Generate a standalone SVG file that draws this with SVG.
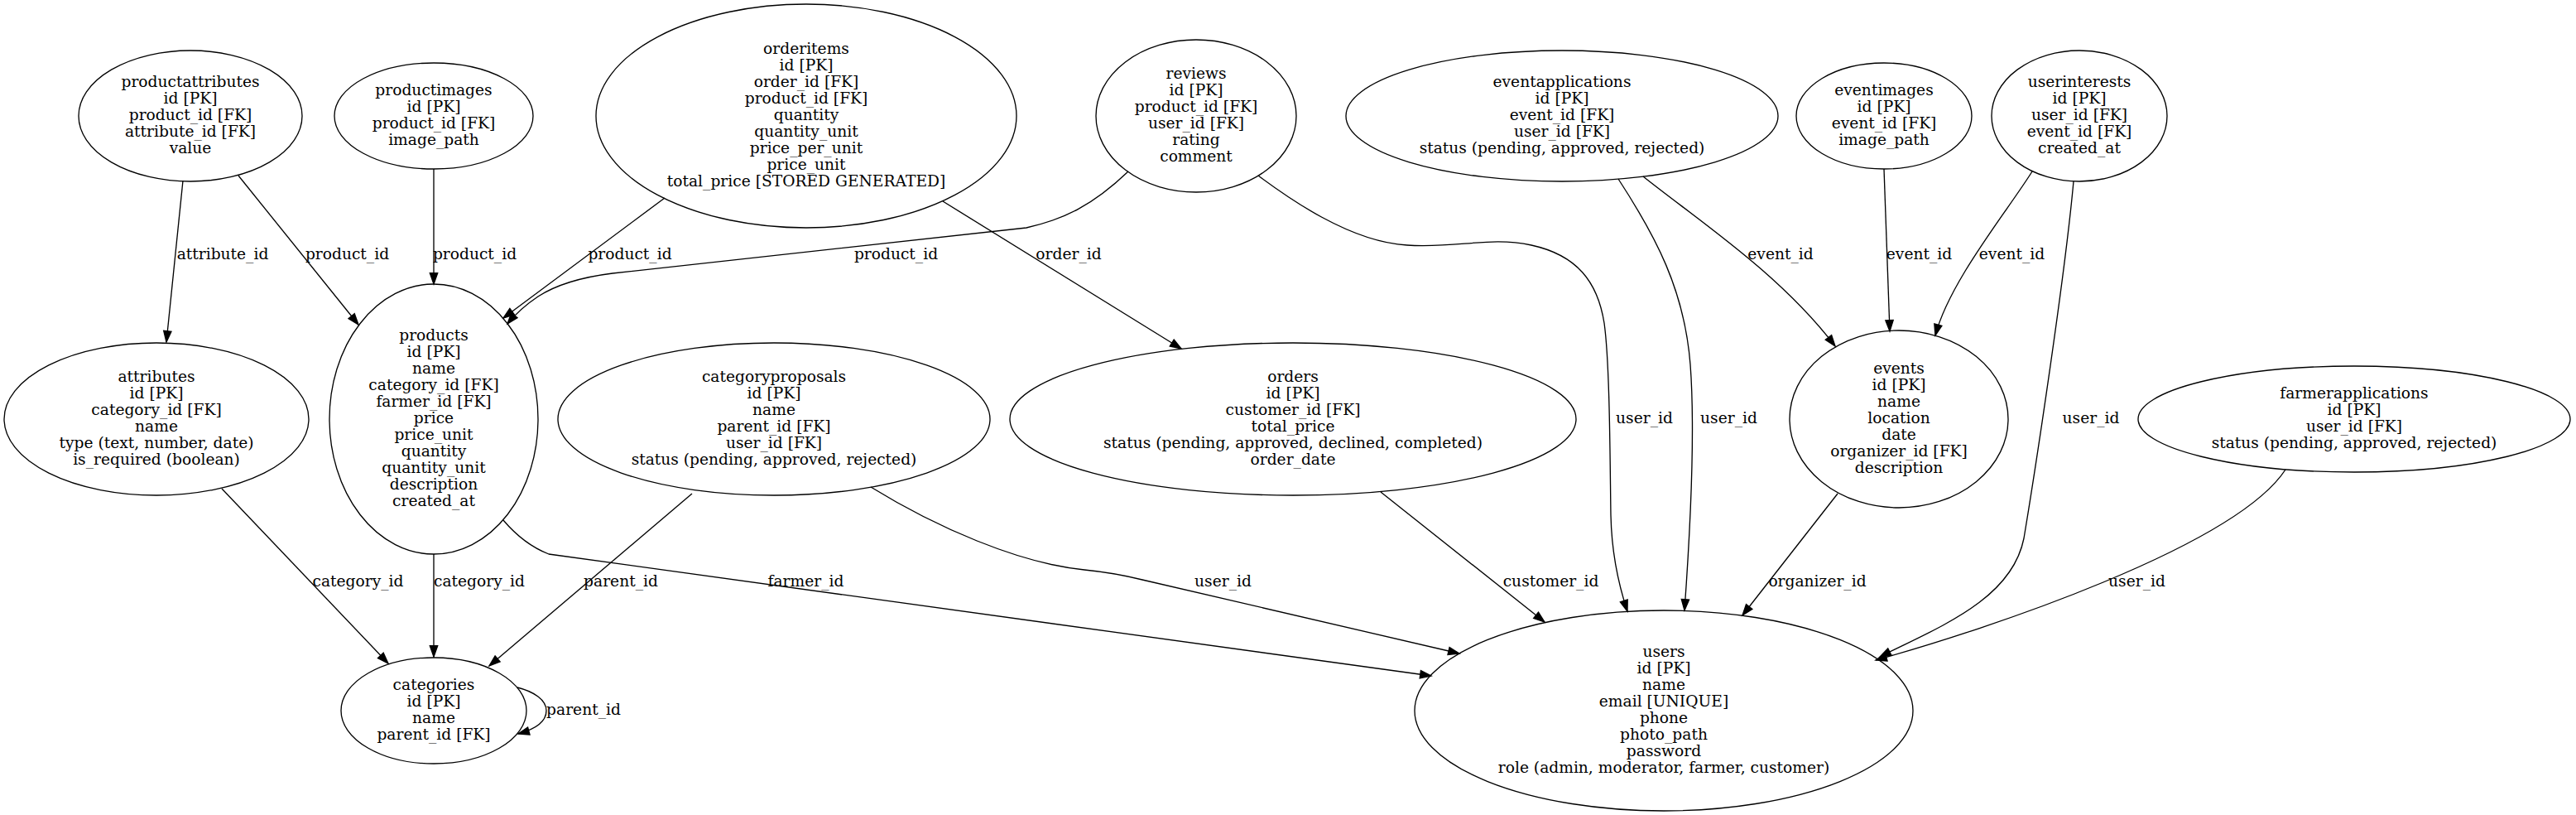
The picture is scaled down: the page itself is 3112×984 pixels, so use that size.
<svg xmlns="http://www.w3.org/2000/svg" width="3112" height="984" viewBox="0 0 3112 984">
<style>
.n ellipse{fill:none;stroke:#000;stroke-width:1.33}
text{font-family:"DejaVu Serif","Liberation Serif",serif;font-size:18.67px;text-anchor:middle;fill:#000}
#edges path{fill:none;stroke:#000;stroke-width:1.33;marker-end:url(#arr)}
</style>
<defs>
<marker id="arr" markerUnits="userSpaceOnUse" markerWidth="18" markerHeight="14" viewBox="-2 -7 18 14" refX="13.3" refY="0" orient="auto">
<path d="M0,-4.67 L13.3,0 L0,4.67 z" fill="#000" stroke="#000" stroke-width="1.33"/>
</marker>
</defs>
<rect width="3112" height="984" fill="#fff"/>

<g id="edges">
<path d="M221,218 L201,413"/>
<path d="M288,212 L433,392"/>
<path d="M524,204 L524,343"/>
<path d="M803,239 L608,384"/>
<path d="M1363,207 C1320,248 1285,265 1240,275 L740,330 C700,335 670,345 650,358 C635,368 622,380 613,391"/>
<path d="M1139,243 L1427,421"/>
<path d="M1520,212 C1555,238 1630,292 1700,296 C1760,300 1800,285 1850,296 C1905,308 1930,340 1938,390 C1945,440 1945,560 1946,622 C1947,670 1955,705 1966,738"/>
<path d="M1955,216 C2000,285 2035,350 2042,440 C2048,520 2042,640 2035,737"/>
<path d="M1985,213 C2050,265 2150,330 2217,418"/>
<path d="M2276,204 L2283,400"/>
<path d="M2455,207 C2425,255 2355,340 2338,405"/>
<path d="M2505,219 C2495,330 2460,560 2445,650 C2430,725 2340,758 2271,793"/>
<path d="M268,590 L469,801"/>
<path d="M524,669 L524,793"/>
<path d="M836,596 L591,804"/>
<path d="M625,830 C645,835 660,845 660,858 C660,870 648,880 626,886"/>
<path d="M608,628 C625,648 645,662 663,669 L1729,816"/>
<path d="M1052,588 C1130,636 1230,680 1310,688 C1340,691 1360,695 1380,700 L1763,789"/>
<path d="M1668,594 L1866,751"/>
<path d="M2220,596 L2105,743"/>
<path d="M2761,567 C2700,660 2400,760 2266,797"/>
</g>

<g id="edge-labels">
<text x="269" y="313">attribute_id</text>
<text x="419.5" y="313">product_id</text>
<text x="573.5" y="313">product_id</text>
<text x="761" y="313">product_id</text>
<text x="1082.5" y="313">product_id</text>
<text x="1291" y="313">order_id</text>
<text x="2151" y="313">event_id</text>
<text x="2318.5" y="313">event_id</text>
<text x="2430.5" y="313">event_id</text>
<text x="1986.5" y="511">user_id</text>
<text x="2088.5" y="511">user_id</text>
<text x="2526" y="511">user_id</text>
<text x="432.5" y="708">category_id</text>
<text x="579" y="708">category_id</text>
<text x="750" y="708">parent_id</text>
<text x="973.5" y="708">farmer_id</text>
<text x="1477.5" y="708">user_id</text>
<text x="1873.5" y="708">customer_id</text>
<text x="2195.5" y="708">organizer_id</text>
<text x="2581.5" y="708">user_id</text>
<text x="705" y="863">parent_id</text>
</g>

<g id="productattributes" class="n">
<ellipse cx="230" cy="140" rx="135" ry="79"/>
<text x="230" y="105">productattributes<tspan x="230" dy="20">id [PK]</tspan><tspan x="230" dy="20">product_id [FK]</tspan><tspan x="230" dy="20">attribute_id [FK]</tspan><tspan x="230" dy="20">value</tspan></text>
</g>
<g id="productimages" class="n">
<ellipse cx="524" cy="140" rx="120" ry="64"/>
<text x="524" y="115">productimages<tspan x="524" dy="20">id [PK]</tspan><tspan x="524" dy="20">product_id [FK]</tspan><tspan x="524" dy="20">image_path</tspan></text>
</g>
<g id="orderitems" class="n">
<ellipse cx="974" cy="140" rx="254" ry="135"/>
<text x="974" y="65">orderitems<tspan x="974" dy="20">id [PK]</tspan><tspan x="974" dy="20">order_id [FK]</tspan><tspan x="974" dy="20">product_id [FK]</tspan><tspan x="974" dy="20">quantity</tspan><tspan x="974" dy="20">quantity_unit</tspan><tspan x="974" dy="20">price_per_unit</tspan><tspan x="974" dy="20">price_unit</tspan><tspan x="974" dy="20">total_price [STORED GENERATED]</tspan></text>
</g>
<g id="reviews" class="n">
<ellipse cx="1445" cy="140" rx="121" ry="92"/>
<text x="1445" y="95">reviews<tspan x="1445" dy="20">id [PK]</tspan><tspan x="1445" dy="20">product_id [FK]</tspan><tspan x="1445" dy="20">user_id [FK]</tspan><tspan x="1445" dy="20">rating</tspan><tspan x="1445" dy="20">comment</tspan></text>
</g>
<g id="eventapplications" class="n">
<ellipse cx="1887" cy="140" rx="261" ry="79"/>
<text x="1887" y="105">eventapplications<tspan x="1887" dy="20">id [PK]</tspan><tspan x="1887" dy="20">event_id [FK]</tspan><tspan x="1887" dy="20">user_id [FK]</tspan><tspan x="1887" dy="20">status (pending, approved, rejected)</tspan></text>
</g>
<g id="eventimages" class="n">
<ellipse cx="2276" cy="140" rx="106" ry="64"/>
<text x="2276" y="115">eventimages<tspan x="2276" dy="20">id [PK]</tspan><tspan x="2276" dy="20">event_id [FK]</tspan><tspan x="2276" dy="20">image_path</tspan></text>
</g>
<g id="userinterests" class="n">
<ellipse cx="2512" cy="140" rx="106" ry="79"/>
<text x="2512" y="105">userinterests<tspan x="2512" dy="20">id [PK]</tspan><tspan x="2512" dy="20">user_id [FK]</tspan><tspan x="2512" dy="20">event_id [FK]</tspan><tspan x="2512" dy="20">created_at</tspan></text>
</g>
<g id="attributes" class="n">
<ellipse cx="189" cy="506" rx="184" ry="92"/>
<text x="189" y="461">attributes<tspan x="189" dy="20">id [PK]</tspan><tspan x="189" dy="20">category_id [FK]</tspan><tspan x="189" dy="20">name</tspan><tspan x="189" dy="20">type (text, number, date)</tspan><tspan x="189" dy="20">is_required (boolean)</tspan></text>
</g>
<g id="products" class="n">
<ellipse cx="524" cy="506" rx="126" ry="163"/>
<text x="524" y="411">products<tspan x="524" dy="20">id [PK]</tspan><tspan x="524" dy="20">name</tspan><tspan x="524" dy="20">category_id [FK]</tspan><tspan x="524" dy="20">farmer_id [FK]</tspan><tspan x="524" dy="20">price</tspan><tspan x="524" dy="20">price_unit</tspan><tspan x="524" dy="20">quantity</tspan><tspan x="524" dy="20">quantity_unit</tspan><tspan x="524" dy="20">description</tspan><tspan x="524" dy="20">created_at</tspan></text>
</g>
<g id="categoryproposals" class="n">
<ellipse cx="935" cy="506" rx="261" ry="92"/>
<text x="935" y="461">categoryproposals<tspan x="935" dy="20">id [PK]</tspan><tspan x="935" dy="20">name</tspan><tspan x="935" dy="20">parent_id [FK]</tspan><tspan x="935" dy="20">user_id [FK]</tspan><tspan x="935" dy="20">status (pending, approved, rejected)</tspan></text>
</g>
<g id="orders" class="n">
<ellipse cx="1562" cy="506" rx="342" ry="92"/>
<text x="1562" y="461">orders<tspan x="1562" dy="20">id [PK]</tspan><tspan x="1562" dy="20">customer_id [FK]</tspan><tspan x="1562" dy="20">total_price</tspan><tspan x="1562" dy="20">status (pending, approved, declined, completed)</tspan><tspan x="1562" dy="20">order_date</tspan></text>
</g>
<g id="events" class="n">
<ellipse cx="2294" cy="506" rx="132" ry="107"/>
<text x="2294" y="451">events<tspan x="2294" dy="20">id [PK]</tspan><tspan x="2294" dy="20">name</tspan><tspan x="2294" dy="20">location</tspan><tspan x="2294" dy="20">date</tspan><tspan x="2294" dy="20">organizer_id [FK]</tspan><tspan x="2294" dy="20">description</tspan></text>
</g>
<g id="farmerapplications" class="n">
<ellipse cx="2844" cy="506" rx="261" ry="64"/>
<text x="2844" y="481">farmerapplications<tspan x="2844" dy="20">id [PK]</tspan><tspan x="2844" dy="20">user_id [FK]</tspan><tspan x="2844" dy="20">status (pending, approved, rejected)</tspan></text>
</g>
<g id="categories" class="n">
<ellipse cx="524" cy="858" rx="112" ry="64"/>
<text x="524" y="833">categories<tspan x="524" dy="20">id [PK]</tspan><tspan x="524" dy="20">name</tspan><tspan x="524" dy="20">parent_id [FK]</tspan></text>
</g>
<g id="users" class="n">
<ellipse cx="2010" cy="858" rx="301" ry="121"/>
<text x="2010" y="793">users<tspan x="2010" dy="20">id [PK]</tspan><tspan x="2010" dy="20">name</tspan><tspan x="2010" dy="20">email [UNIQUE]</tspan><tspan x="2010" dy="20">phone</tspan><tspan x="2010" dy="20">photo_path</tspan><tspan x="2010" dy="20">password</tspan><tspan x="2010" dy="20">role (admin, moderator, farmer, customer)</tspan></text>
</g>
</svg>
